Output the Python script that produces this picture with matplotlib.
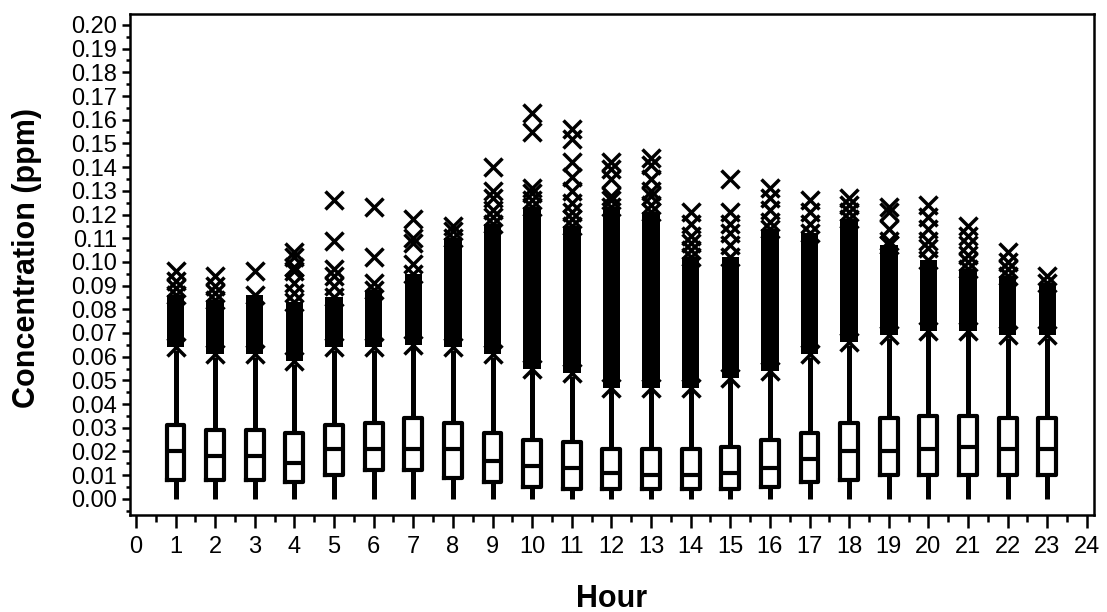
import matplotlib
matplotlib.use("Agg")
import matplotlib.pyplot as plt
from matplotlib.ticker import MultipleLocator, FormatStrFormatter

plt.rcParams['font.family'] = ['Liberation Sans', 'DejaVu Sans']

hours = list(range(1, 24))
q1 = [0.008, 0.008, 0.008, 0.007, 0.010, 0.012, 0.012, 0.009, 0.007, 0.005, 0.004, 0.004,
      0.004, 0.004, 0.004, 0.005, 0.007, 0.008, 0.010, 0.010, 0.010, 0.010, 0.010]
med = [0.020, 0.018, 0.018, 0.015, 0.021, 0.021, 0.021, 0.021, 0.016, 0.014, 0.013, 0.011,
       0.010, 0.010, 0.011, 0.013, 0.017, 0.020, 0.020, 0.021, 0.022, 0.021, 0.021]
q3 = [0.031, 0.029, 0.029, 0.028, 0.031, 0.032, 0.034, 0.032, 0.028, 0.025, 0.024, 0.021,
      0.021, 0.021, 0.022, 0.025, 0.028, 0.032, 0.034, 0.035, 0.035, 0.034, 0.034]
whis_lo = [0.000] * 23
whis_hi = [0.063, 0.060, 0.060, 0.057, 0.063, 0.063, 0.064, 0.063, 0.060, 0.054, 0.052, 0.046,
           0.046, 0.046, 0.050, 0.053, 0.060, 0.065, 0.068, 0.070, 0.070, 0.068, 0.068]

# dense run of outliers (lowest .. top of the solid run)
band_lo = [0.064, 0.061, 0.061, 0.058, 0.064, 0.064, 0.065, 0.064, 0.061, 0.055, 0.053, 0.047,
           0.047, 0.047, 0.051, 0.054, 0.061, 0.066, 0.069, 0.071, 0.071, 0.069, 0.069]
band_hi = [0.086, 0.084, 0.086, 0.083, 0.085, 0.088, 0.095, 0.110, 0.116, 0.123, 0.115, 0.123,
           0.121, 0.102, 0.102, 0.114, 0.112, 0.118, 0.107, 0.101, 0.097, 0.094, 0.091]

# scattered outliers above the dense run
extra = [
    [0.089, 0.092, 0.096],
    [0.087, 0.090, 0.094],
    [0.096],
    [0.087, 0.091, 0.096, 0.098, 0.102, 0.104],
    [0.090, 0.094, 0.097, 0.109, 0.126],
    [0.091, 0.102, 0.123],
    [0.099, 0.108, 0.110, 0.118],
    [0.113, 0.115],
    [0.119, 0.122, 0.127, 0.130, 0.140],
    [0.126, 0.129, 0.131, 0.155, 0.163],
    [0.118, 0.121, 0.125, 0.130, 0.136, 0.142, 0.152, 0.156],
    [0.126, 0.128, 0.135, 0.139, 0.142],
    [0.124, 0.128, 0.130, 0.135, 0.141, 0.144],
    [0.105, 0.108, 0.111, 0.116, 0.121],
    [0.107, 0.112, 0.116, 0.121, 0.135],
    [0.117, 0.122, 0.127, 0.131],
    [0.116, 0.121, 0.126],
    [0.121, 0.124, 0.127],
    [0.109, 0.114, 0.121, 0.123],
    [0.106, 0.109, 0.114, 0.119, 0.124],
    [0.100, 0.103, 0.107, 0.111, 0.115],
    [0.097, 0.100, 0.104],
    [0.094],
]

fig = plt.figure(figsize=(11.07, 6.12), dpi=100)
ax = fig.add_axes([0.1174, 0.1585, 0.8709, 0.8186])

stats = []
for i in range(len(hours)):
    stats.append({'med': med[i], 'q1': q1[i], 'q3': q3[i],
                  'whislo': whis_lo[i], 'whishi': whis_hi[i], 'fliers': []})

ax.bxp(stats, positions=hours, widths=0.45, showcaps=False, showfliers=False,
       boxprops=dict(color='black', linewidth=3.0),
       whiskerprops=dict(color='black', linewidth=3.6, solid_capstyle='butt'),
       medianprops=dict(color='black', linewidth=3.0))

# solid run of outliers
heights = [h - l for h, l in zip(band_hi, band_lo)]
ax.bar(hours, heights, bottom=band_lo, width=0.44, color='black', zorder=3)

mk = dict(marker='x', linestyle='none', color='black', markersize=12.5, markeredgewidth=2.5, zorder=4)
ax.plot(hours, band_lo, **mk)
ax.plot(hours, band_hi, **mk)
for h, vals in zip(hours, extra):
    ax.plot([h] * len(vals), vals, **mk)

ax.set_xlim(-0.15, 24.18)
ax.set_ylim(-0.0068, 0.2046)

ax.xaxis.set_major_locator(MultipleLocator(1))
ax.xaxis.set_minor_locator(MultipleLocator(0.5))
ax.yaxis.set_major_locator(MultipleLocator(0.01))
ax.yaxis.set_minor_locator(MultipleLocator(0.005))
ax.yaxis.set_major_formatter(FormatStrFormatter('%.2f'))
ax.set_xticks(range(0, 25))
ax.set_xticklabels([str(v) for v in range(0, 25)])

ax.tick_params(axis='x', which='major', length=9, width=1.8, labelsize=17, pad=6)
ax.tick_params(axis='x', which='minor', length=5, width=1.8)
ax.tick_params(axis='y', which='major', length=6, width=1.8, labelsize=17, pad=3)
ax.tick_params(axis='y', which='minor', length=3, width=1.8)

for s in ax.spines.values():
    s.set_linewidth(1.8)

ax.set_xlabel('Hour', fontsize=22, fontweight='bold')
ax.xaxis.set_label_coords(0.5, -0.138)
ax.xaxis.label.set_va('top')
fig.text(27 / 1107, 1 - 258 / 612, 'Concentration (ppm)', fontsize=22, fontweight='bold',
         rotation=90, ha='center', va='center')

fig.savefig('out.png', dpi=100)
